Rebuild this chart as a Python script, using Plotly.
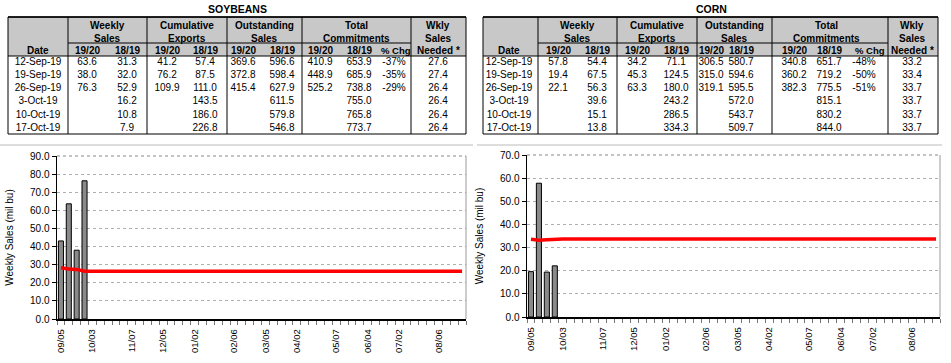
import pandas as pd
import plotly.graph_objects as go

# ---------------- data ----------------
table_dates = ["12-Sep-19", "19-Sep-19", "26-Sep-19", "3-Oct-19", "10-Oct-19", "17-Oct-19"]

soy_weekly_1920 = [63.6, 38.0, 76.3]
soy_weekly_1819 = [31.3, 32.0, 52.9, 16.2, 10.8, 7.9]
soy_cum_1920 = [41.2, 76.2, 109.9]
soy_cum_1819 = [57.4, 87.5, 111.0, 143.5, 186.0, 226.8]
soy_out_1920 = [369.6, 372.8, 415.4]
soy_out_1819 = [596.6, 598.4, 627.9, 611.5, 579.8, 546.8]
soy_tot_1920 = [410.9, 448.9, 525.2]
soy_tot_1819 = [653.9, 685.9, 738.8, 755.0, 765.8, 773.7]
soy_needed_tbl = [27.6, 27.4, 26.4, 26.4, 26.4, 26.4]

corn_weekly_1920 = [57.8, 19.4, 22.1]
corn_weekly_1819 = [54.4, 67.5, 56.3, 39.6, 15.1, 13.8]
corn_cum_1920 = [34.2, 45.3, 63.3]
corn_cum_1819 = [71.1, 124.5, 180.0, 243.2, 286.5, 334.3]
corn_out_1920 = [306.5, 315.0, 319.1]
corn_out_1819 = [580.7, 594.6, 595.5, 572.0, 543.7, 509.7]
corn_tot_1920 = [340.8, 360.2, 382.3]
corn_tot_1819 = [651.7, 719.2, 775.5, 815.1, 830.2, 844.0]
corn_needed_tbl = [33.2, 33.4, 33.7, 33.7, 33.7, 33.7]

# weekly chart data (marketing year weeks starting 09/05/2019)
weeks = pd.date_range("2019-09-05", periods=52, freq="7D")
soy_chart_sales = [43.1, 63.6, 38.0, 76.3]
corn_chart_sales = [19.6, 57.8, 19.4, 22.1]
soy_chart_needed = [28.3, 27.6, 27.4, 26.4, 26.4, 26.4, 26.4, 26.4, 26.4, 26.4, 26.4, 26.4, 26.4,
                    26.4, 26.4, 26.4, 26.4, 26.4, 26.4, 26.4, 26.4, 26.4, 26.4, 26.4, 26.4, 26.4,
                    26.4, 26.4, 26.4, 26.4, 26.4, 26.4, 26.4, 26.4, 26.4, 26.4, 26.4, 26.4, 26.4,
                    26.4, 26.4, 26.4, 26.4, 26.4, 26.4, 26.4, 26.4, 26.4, 26.4, 26.4, 26.4, 26.4]
corn_chart_needed = [33.6, 33.2, 33.4, 33.7, 33.7, 33.7, 33.7, 33.7, 33.7, 33.7, 33.7, 33.7, 33.7,
                     33.7, 33.7, 33.7, 33.7, 33.7, 33.7, 33.7, 33.7, 33.7, 33.7, 33.7, 33.7, 33.7,
                     33.7, 33.7, 33.7, 33.7, 33.7, 33.7, 33.7, 33.7, 33.7, 33.7, 33.7, 33.7, 33.7,
                     33.7, 33.7, 33.7, 33.7, 33.7, 33.7, 33.7, 33.7, 33.7, 33.7, 33.7, 33.7, 33.7]

tick_dates = ["2019-09-05", "2019-10-03", "2019-11-07", "2019-12-05", "2020-01-02", "2020-02-06",
              "2020-03-05", "2020-04-02", "2020-05-07", "2020-06-04", "2020-07-02", "2020-08-06"]
tick_labels = ["09/05", "10/03", "11/07", "12/05", "01/02", "02/06",
               "03/05", "04/02", "05/07", "06/04", "07/02", "08/06"]

# ---------------- styling / layout constants ----------------
W, H = 951, 363
FONT = "Liberation Sans, Arial, sans-serif"
ROW_Y = [62, 75.3, 88.6, 101.9, 115.2, 128.5]
TOP, GRP_LINE, HDR_LINE, BOT = 17, 43, 56, 134

soy_layout = dict(
    title="SOYBEANS", title_x=237,
    left=8, right=466, vlines=[68, 147, 227, 302, 411], grp=(68, 411),
    cols=[38, 87, 127, 167, 205, 243, 282, 320, 359, 394, 438],
    groups=[("Weekly", "Sales", 107), ("Cumulative", "Exports", 187),
            ("Outstanding", "Sales", 264), ("Total", "Commitments", 356)],
    wkly_x=438, pct_hdr_x=396,
)
corn_layout = dict(
    title="CORN", title_x=711,
    left=483, right=938, vlines=[538, 617, 697, 772, 888], grp=(538, 888),
    cols=[509, 558, 597, 637, 676, 711, 741, 794, 829, 864, 912],
    groups=[("Weekly", "Sales", 577), ("Cumulative", "Exports", 657),
            ("Outstanding", "Sales", 734), ("Total", "Commitments", 826)],
    wkly_x=912, pct_hdr_x=870,
)

fig = go.Figure()
shapes = []
annotations = []


def fmt(v):
    return "" if v is None else f"{v:.1f}"


def col(vals):
    return [fmt(vals[i]) if i < len(vals) else "" for i in range(len(table_dates))]


def pct(a, b):
    return [f"{round((a[i] / b[i] - 1) * 100):.0f}%" if i < len(a) else "" for i in range(len(table_dates))]


def add_table(lay, columns):
    L, R = lay["left"], lay["right"]
    shapes.append(dict(type="rect", xref="x3", yref="y3", x0=L, x1=R, y0=TOP, y1=HDR_LINE,
                       fillcolor="#c8c8c8", line_width=0, layer="below"))
    shapes.append(dict(type="rect", xref="x3", yref="y3", x0=L, x1=R, y0=TOP, y1=BOT,
                       line=dict(color="black", width=1)))
    shapes.append(dict(type="line", xref="x3", yref="y3", x0=L, x1=R, y0=TOP, y1=TOP,
                       line=dict(color="black", width=1.6)))
    shapes.append(dict(type="line", xref="x3", yref="y3", x0=L, x1=R, y0=HDR_LINE, y1=HDR_LINE,
                       line=dict(color="black", width=1)))
    shapes.append(dict(type="line", xref="x3", yref="y3", x0=lay["grp"][0], x1=lay["grp"][1],
                       y0=GRP_LINE, y1=GRP_LINE, line=dict(color="black", width=1)))
    for vx in lay["vlines"]:
        shapes.append(dict(type="line", xref="x3", yref="y3", x0=vx, x1=vx, y0=TOP, y1=BOT,
                           line=dict(color="black", width=1)))

    def hdr(text, x, y, size=10):
        annotations.append(dict(text=f"<b>{text}</b>", x=x, y=y, xref="x3", yref="y3",
                                showarrow=False, xanchor="center", yanchor="middle",
                                font=dict(family=FONT, size=size, color="black")))
    hdr(lay["title"], lay["title_x"], 9, size=10.5)
    for top, mid, gx in lay["groups"]:
        hdr(top, gx, 25)
        hdr(mid, gx, 38)
    hdr("Wkly", lay["wkly_x"], 25)
    hdr("Sales", lay["wkly_x"], 38)
    hdr("Needed *", lay["wkly_x"], 50)
    hdr("Date", lay["cols"][0], 50)
    sub = ["19/20", "18/19"] * 4
    for i, s in enumerate(sub):
        hdr(s, lay["cols"][i + 1], 50)
    hdr("% Chg", lay["pct_hdr_x"], 50, size=9.5)
    xs, ys, ts = [], [], []
    for ci, values in enumerate(columns):
        for ri, t in enumerate(values):
            if t:
                xs.append(lay["cols"][ci])
                ys.append(ROW_Y[ri])
                ts.append(t)
    fig.add_trace(go.Scatter(x=xs, y=ys, text=ts, mode="text", xaxis="x3", yaxis="y3",
                             textposition="middle center", cliponaxis=False, hoverinfo="skip",
                             textfont=dict(family=FONT, size=10, color="black"), showlegend=False))


add_table(soy_layout, [table_dates, col(soy_weekly_1920), col(soy_weekly_1819), col(soy_cum_1920),
                       col(soy_cum_1819), col(soy_out_1920), col(soy_out_1819), col(soy_tot_1920),
                       col(soy_tot_1819), pct(soy_tot_1920, soy_tot_1819), col(soy_needed_tbl)])
add_table(corn_layout, [table_dates, col(corn_weekly_1920), col(corn_weekly_1819), col(corn_cum_1920),
                        col(corn_cum_1819), col(corn_out_1920), col(corn_out_1819), col(corn_tot_1920),
                        col(corn_tot_1819), pct(corn_tot_1920, corn_tot_1819), col(corn_needed_tbl)])

# ---------------- charts ----------------
WEEK_MS = 7 * 24 * 3600 * 1000
for xa, ya, sales, needed in [("x", "y", soy_chart_sales, soy_chart_needed),
                              ("x2", "y2", corn_chart_sales, corn_chart_needed)]:
    fig.add_trace(go.Bar(x=weeks[:len(sales)], y=sales, xaxis=xa, yaxis=ya, width=0.64 * WEEK_MS,
                         marker=dict(color="#8a8a8a", line=dict(color="black", width=1)),
                         showlegend=False, hoverinfo="skip"))
    fig.add_trace(go.Scatter(x=weeks, y=needed, xaxis=xa, yaxis=ya, mode="lines",
                             line=dict(color="#ff0000", width=3.5), showlegend=False,
                             hoverinfo="skip", cliponaxis=False))

xrange = ["2019-09-01 12:00", "2020-08-30 12:00"]
common_x = dict(type="date", range=xrange, tickvals=tick_dates, ticktext=tick_labels,
                tickangle=-90, ticks="outside", ticklen=5, tickcolor="rgba(0,0,0,0)",
                tickfont=dict(family=FONT, size=9.5, color="black"),
                showline=True, linecolor="black", linewidth=1.5, showgrid=False, zeroline=False,
                minor=dict(ticks="outside", ticklen=4, tickcolor="#777", tickwidth=1,
                           tick0="2019-09-01 12:00", dtick=WEEK_MS, showgrid=False),
                automargin=False, fixedrange=True)
common_y = dict(tickformat=".1f", ticks="outside", ticklen=4, tickcolor="black",
                tickfont=dict(family=FONT, size=10, color="black"),
                showline=True, linecolor="black", linewidth=1.5,
                showgrid=True, gridcolor="#aab2aa", griddash="dot", gridwidth=1,
                zeroline=False, fixedrange=True, automargin=False,
                title=dict(text="Weekly Sales (mil bu)", font=dict(family=FONT, size=10, color="black"),
                           standoff=14))

fig.update_layout(
    width=W, height=H, margin=dict(l=0, r=0, t=0, b=0, autoexpand=False),
    paper_bgcolor="white", plot_bgcolor="rgba(0,0,0,0)",
    bargap=0,
    xaxis=dict(domain=[57 / W, 466 / W], anchor="y", **common_x),
    yaxis=dict(domain=[(H - 319) / H, (H - 156) / H], anchor="x", range=[0, 90], dtick=10, **common_y),
    xaxis2=dict(domain=[527 / W, 940 / W], anchor="y2", **common_x),
    yaxis2=dict(domain=[(H - 317) / H, (H - 155) / H], anchor="x2", range=[0, 70], dtick=10, **common_y),
    xaxis3=dict(domain=[0, 1], range=[0, W], anchor="y3", visible=False, fixedrange=True, automargin=False),
    yaxis3=dict(domain=[0, 1], range=[H, 0], anchor="x3", visible=False, fixedrange=True, automargin=False),
)

for xa, ya in [("x", "y"), ("x2", "y2")]:
    shapes.append(dict(type="line", xref=f"{xa} domain", yref=f"{ya} domain", x0=1, x1=1, y0=0, y1=1,
                       line=dict(color="#999999", width=1)))
    shapes.append(dict(type="line", xref=f"{xa} domain", yref=f"{ya} domain", x0=0, x1=1, y0=1, y1=1,
                       line=dict(color="#888888", width=1, dash="dot")))
shapes.append(dict(type="line", xref="x3", yref="y3", x0=0, x1=473, y0=145, y1=145,
                   line=dict(color="#bbbbbb", width=1)))
shapes.append(dict(type="line", xref="x3", yref="y3", x0=477, x1=942, y0=145, y1=145,
                   line=dict(color="#bbbbbb", width=1)))

fig.update_layout(shapes=shapes, annotations=annotations)
fig.write_html("out.html", config={"displayModeBar": False, "staticPlot": True},
               post_script="document.body.style.margin='0';document.body.style.overflow='hidden';")
